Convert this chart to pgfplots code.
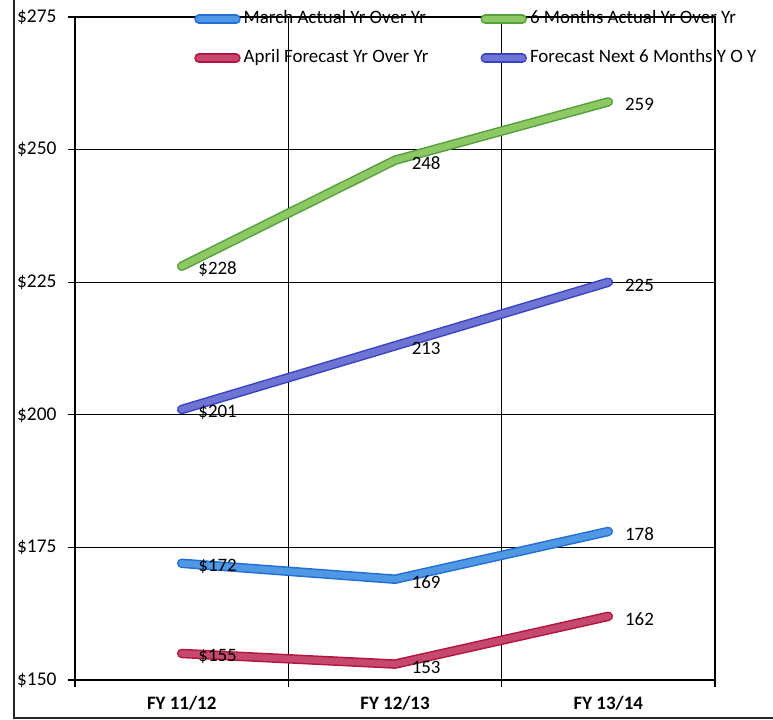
\documentclass[border=0pt]{standalone}
\usepackage{fontspec}
\setmainfont{Carlito}
\usepackage{pgfplots}
\pgfplotsset{compat=1.18}

\definecolor{blueF}{RGB}{78,152,228}
\definecolor{blueE}{RGB}{35,110,215}
\definecolor{greenF}{RGB}{140,200,100}
\definecolor{greenE}{RGB}{85,160,60}
\definecolor{redF}{RGB}{198,72,110}
\definecolor{redE}{RGB}{178,22,62}
\definecolor{purpF}{RGB}{110,116,212}
\definecolor{purpE}{RGB}{58,68,195}

\tikzset{
  fatline/.style 2 args={draw=#1, double=#2, double distance=6.5bp,
    line width=1.5bp, line cap=round, line join=round},
}

\begin{document}
\begin{tikzpicture}
\useasboundingbox (0,0) rectangle (773bp,720bp);
% page frame (left and bottom edges)
\draw[line width=1.6bp, black!85] (14bp,720bp) -- (14bp,2bp) -- (773bp,2bp);

\begin{axis}[
  at={(75bp,40bp)}, anchor=south west,
  scale only axis, width=640bp, height=663bp,
  xmin=-0.5, xmax=2.5, ymin=150, ymax=275,
  xtick={0,1,2},
  xticklabels={FY 11/12, FY 12/13, FY 13/14},
  minor xtick={-0.5,0.5,1.5,2.5},
  xminorgrids=true,
  major x tick style={draw=none},
  ytick={150,175,200,225,250,275},
  yticklabels={\$150,\$175,\$200,\$225,\$250,\$275},
  ymajorgrids=true,
  tick pos=left,
  tick align=outside,
  major tick length=7bp, minor tick length=7bp,
  axis line style={black, line width=1.1bp},
  grid style={black, line width=1.1bp},
  minor grid style={black, line width=1.1bp},
  every tick/.style={black, line width=1.1bp},
  tick label style={font=\fontsize{19.5}{23}\selectfont},
  xticklabel style={font=\fontsize{19}{23}\selectfont\bfseries, yshift=-6bp},
  yticklabel style={xshift=-8bp},
  point meta=explicit symbolic,
  nodes near coords,
  every node near coord/.style={anchor=west, inner sep=0pt, xshift=16bp,
    yshift=-3bp, text=black, font=\fontsize{19}{23}\selectfont},
  legend columns=2,
  legend cell align=left,
  legend image code/.code={\draw[#1] (0bp,0bp) -- (37bp,0bp);},
  legend style={at={(0.186,1.009)}, anchor=north west, draw=none,
    fill=none, inner sep=0pt, row sep=23bp, column sep=3bp,
    font=\fontsize{19}{23}\selectfont,
    nodes={inner sep=0pt, text height=12bp, text depth=4bp},
    /tikz/every even column/.append style={column sep=52bp}},
]
\addplot[fatline={blueE}{blueF}] coordinates {
  (0,172) [\$172] (1,169) [169] (2,178) [178]};
\addlegendentry{March Actual Yr Over Yr}
\addplot[fatline={greenE}{greenF}] coordinates {
  (0,228) [\$228] (1,248) [248] (2,259) [259]};
\addlegendentry{6 Months Actual Yr Over Yr}
\addplot[fatline={redE}{redF}] coordinates {
  (0,155) [\$155] (1,153) [153] (2,162) [162]};
\addlegendentry{April Forecast Yr Over Yr}
\addplot[fatline={purpE}{purpF}] coordinates {
  (0,201) [\$201] (1,213) [213] (2,225) [225]};
\addlegendentry{Forecast Next 6 Months Y O Y}
\end{axis}
\end{tikzpicture}
\end{document}
